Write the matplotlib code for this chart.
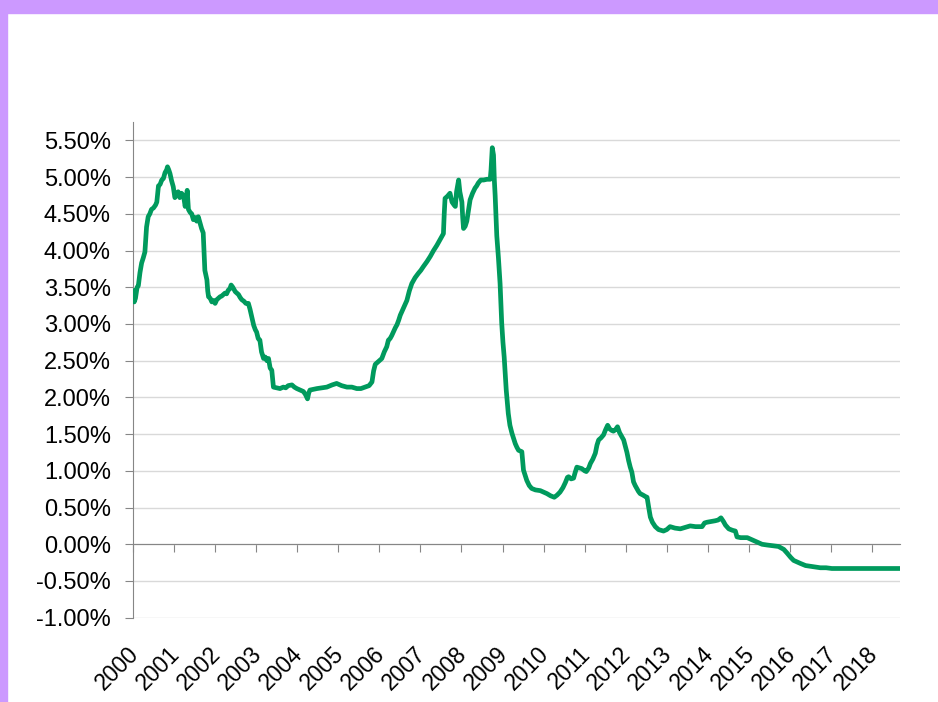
import matplotlib.pyplot as plt
from matplotlib.patches import Rectangle

plt.rcParams['font.family'] = ['Liberation Sans', 'DejaVu Sans']

# decimal year, rate in %
dates = [
    2000.00, 2000.03, 2000.06, 2000.10, 2000.13, 2000.17, 2000.21, 2000.25, 2000.29, 2000.33,
    2000.37, 2000.41, 2000.45, 2000.50, 2000.55, 2000.58, 2000.62, 2000.66, 2000.70, 2000.74,
    2000.78, 2000.82, 2000.84, 2000.87, 2000.90, 2000.94, 2000.98, 2001.02, 2001.06, 2001.10,
    2001.14, 2001.18, 2001.23, 2001.27, 2001.30, 2001.32, 2001.35, 2001.39, 2001.43, 2001.47,
    2001.51, 2001.55, 2001.59, 2001.63, 2001.67, 2001.71, 2001.73, 2001.75, 2001.78, 2001.80,
    2001.82, 2001.84, 2001.88, 2001.92, 2001.96, 2002.00, 2002.04, 2002.08, 2002.12, 2002.16,
    2002.20, 2002.24, 2002.28, 2002.32, 2002.36, 2002.39, 2002.43, 2002.49, 2002.53, 2002.57,
    2002.61, 2002.65, 2002.70, 2002.75, 2002.81, 2002.85, 2002.89, 2002.94, 2002.98, 2003.01,
    2003.05, 2003.09, 2003.13, 2003.18, 2003.22, 2003.26, 2003.30, 2003.34, 2003.38, 2003.40,
    2003.42, 2003.50, 2003.58, 2003.66, 2003.72, 2003.78, 2003.87, 2003.93, 2003.99, 2004.07,
    2004.15, 2004.20, 2004.25, 2004.28, 2004.31, 2004.40, 2004.48, 2004.60, 2004.72, 2004.85,
    2004.96, 2005.08, 2005.21, 2005.33, 2005.45, 2005.55, 2005.65, 2005.75, 2005.82, 2005.86,
    2005.90, 2006.00, 2006.06, 2006.12, 2006.18, 2006.22, 2006.26, 2006.30, 2006.34, 2006.39,
    2006.43, 2006.47, 2006.51, 2006.59, 2006.67, 2006.73, 2006.79, 2006.87, 2006.95, 2007.01,
    2007.07, 2007.16, 2007.24, 2007.32, 2007.40, 2007.48, 2007.56, 2007.58, 2007.60, 2007.66,
    2007.72, 2007.77, 2007.82, 2007.85, 2007.88, 2007.93, 2007.96, 2008.01, 2008.03, 2008.05,
    2008.09, 2008.13, 2008.17, 2008.21, 2008.27, 2008.33, 2008.37, 2008.41, 2008.47, 2008.54,
    2008.62, 2008.70, 2008.72, 2008.75, 2008.78, 2008.80, 2008.82, 2008.86, 2008.90, 2008.94,
    2008.98, 2009.01, 2009.04, 2009.09, 2009.14, 2009.18, 2009.23, 2009.27, 2009.31, 2009.35,
    2009.39, 2009.43, 2009.47, 2009.51, 2009.55, 2009.59, 2009.65, 2009.71, 2009.80, 2009.92,
    2010.00, 2010.08, 2010.17, 2010.26, 2010.33, 2010.40, 2010.47, 2010.53, 2010.58, 2010.61,
    2010.67, 2010.73, 2010.77, 2010.81, 2010.87, 2010.93, 2011.00, 2011.04, 2011.10, 2011.14,
    2011.20, 2011.26, 2011.30, 2011.34, 2011.40, 2011.46, 2011.51, 2011.56, 2011.61, 2011.66,
    2011.70, 2011.75, 2011.80, 2011.85, 2011.91, 2011.95, 2012.03, 2012.07, 2012.11, 2012.15,
    2012.19, 2012.23, 2012.27, 2012.31, 2012.35, 2012.42, 2012.48, 2012.52, 2012.56, 2012.60,
    2012.65, 2012.72, 2012.80, 2012.92, 2013.00, 2013.08, 2013.20, 2013.33, 2013.45, 2013.57,
    2013.70, 2013.86, 2013.92, 2013.98, 2014.08, 2014.18, 2014.25, 2014.32, 2014.38, 2014.43,
    2014.51, 2014.60, 2014.67, 2014.71, 2014.80, 2014.96, 2015.08, 2015.20, 2015.32, 2015.44,
    2015.58, 2015.72, 2015.85, 2015.93, 2016.02, 2016.09, 2016.17, 2016.25, 2016.38, 2016.50,
    2016.62, 2016.74, 2016.88, 2017.02, 2017.50, 2018.00, 2018.68,
]
rates = [
    3.45, 3.30, 3.35, 3.50, 3.52, 3.70, 3.83, 3.90, 3.98, 4.32,
    4.46, 4.50, 4.56, 4.58, 4.62, 4.66, 4.88, 4.90, 4.96, 4.98,
    5.06, 5.10, 5.14, 5.10, 5.05, 4.95, 4.87, 4.72, 4.76, 4.80,
    4.72, 4.78, 4.75, 4.60, 4.70, 4.82, 4.56, 4.52, 4.50, 4.42,
    4.45, 4.40, 4.46, 4.38, 4.30, 4.24, 4.00, 3.73, 3.65, 3.60,
    3.45, 3.37, 3.35, 3.30, 3.32, 3.28, 3.33, 3.35, 3.37, 3.38,
    3.40, 3.42, 3.41, 3.46, 3.48, 3.53, 3.50, 3.44, 3.42, 3.40,
    3.36, 3.33, 3.31, 3.28, 3.28, 3.20, 3.10, 2.98, 2.92, 2.89,
    2.80, 2.78, 2.62, 2.53, 2.55, 2.50, 2.53, 2.40, 2.37, 2.25,
    2.14, 2.13, 2.12, 2.14, 2.13, 2.16, 2.17, 2.14, 2.12, 2.10,
    2.08, 2.04, 1.98, 2.06, 2.10, 2.11, 2.12, 2.13, 2.14, 2.17,
    2.19, 2.16, 2.14, 2.14, 2.12, 2.12, 2.14, 2.16, 2.21, 2.36,
    2.45, 2.50, 2.53, 2.62, 2.69, 2.78, 2.80, 2.84, 2.89, 2.95,
    2.99, 3.05, 3.12, 3.22, 3.32, 3.45, 3.55, 3.63, 3.69, 3.73,
    3.78, 3.85, 3.92, 4.00, 4.07, 4.15, 4.23, 4.50, 4.71, 4.74,
    4.78, 4.66, 4.62, 4.60, 4.80, 4.96, 4.80, 4.66, 4.45, 4.30,
    4.33, 4.40, 4.55, 4.69, 4.78, 4.85, 4.88, 4.92, 4.96, 4.96,
    4.97, 4.97, 5.10, 5.40, 5.30, 4.96, 4.75, 4.20, 3.90, 3.55,
    3.01, 2.75, 2.55, 2.10, 1.78, 1.62, 1.51, 1.44, 1.37, 1.32,
    1.28, 1.27, 1.26, 1.01, 0.94, 0.87, 0.80, 0.76, 0.74, 0.73,
    0.71, 0.69, 0.66, 0.64, 0.67, 0.71, 0.77, 0.84, 0.91, 0.92,
    0.89, 0.90, 0.98, 1.05, 1.04, 1.03, 1.00, 0.99, 1.04, 1.10,
    1.16, 1.24, 1.35, 1.42, 1.45, 1.49, 1.56, 1.62, 1.57, 1.55,
    1.54, 1.56, 1.60, 1.52, 1.46, 1.42, 1.25, 1.14, 1.05, 0.98,
    0.85, 0.80, 0.76, 0.72, 0.69, 0.67, 0.65, 0.64, 0.50, 0.37,
    0.30, 0.24, 0.20, 0.18, 0.20, 0.24, 0.22, 0.21, 0.23, 0.25,
    0.24, 0.24, 0.29, 0.30, 0.31, 0.32, 0.33, 0.36, 0.31, 0.26,
    0.21, 0.19, 0.18, 0.10, 0.09, 0.09, 0.06, 0.03, 0.00, -0.01,
    -0.02, -0.03, -0.07, -0.12, -0.18, -0.22, -0.24, -0.26, -0.29, -0.30,
    -0.31, -0.32, -0.32, -0.33, -0.33, -0.33, -0.33,
]

years = list(range(2000, 2019))
year_labels = [str(y) for y in years]
y_ticks = [-1.0, -0.5, 0.0, 0.5, 1.0, 1.5, 2.0, 2.5, 3.0, 3.5, 4.0, 4.5, 5.0, 5.5]

fig = plt.figure(figsize=(9.38, 7.02), dpi=100)
# purple frame on top and left
fig.patches.append(Rectangle((0, 1 - 13 / 702), 1, 13 / 702, transform=fig.transFigure,
                             color='#cc99ff', zorder=0))
fig.patches.append(Rectangle((0, 0), 7 / 938, 1, transform=fig.transFigure,
                             color='#cc99ff', zorder=0))

ax = fig.add_axes([133 / 938, 84.3 / 702, 767 / 938, 495.7 / 702])
ax.plot(dates, rates, color='#009a5d', lw=3.4, solid_joinstyle='round', zorder=3)

ax.set_xlim(2000, 2018.68)
ax.set_ylim(-1.0, 5.75)
ax.set_yticks(y_ticks)
ax.set_yticklabels(['%.2f%%' % v for v in y_ticks])
ax.grid(axis='y', color='#d9d9d9', lw=1.0)
ax.set_axisbelow(True)

for s in ['top', 'right']:
    ax.spines[s].set_visible(False)
ax.spines['left'].set_color('#868686')
ax.spines['bottom'].set_color('#868686')
ax.spines['bottom'].set_position(('data', 0))

ax.set_xticks(years)
ax.tick_params(axis='x', direction='out', length=6, color='#868686', labelbottom=False)
ax.tick_params(axis='y', direction='out', length=6, color='#868686', labelsize=17, pad=10)

for y, lab in zip(years, year_labels):
    ax.annotate(lab, xy=(y, 0), xycoords=('data', 'axes fraction'),
                xytext=(-4.5, -18), textcoords='offset points',
                rotation=45, rotation_mode='anchor', ha='right', va='top',
                fontsize=16.5)

fig.savefig('out.png', dpi=100)
